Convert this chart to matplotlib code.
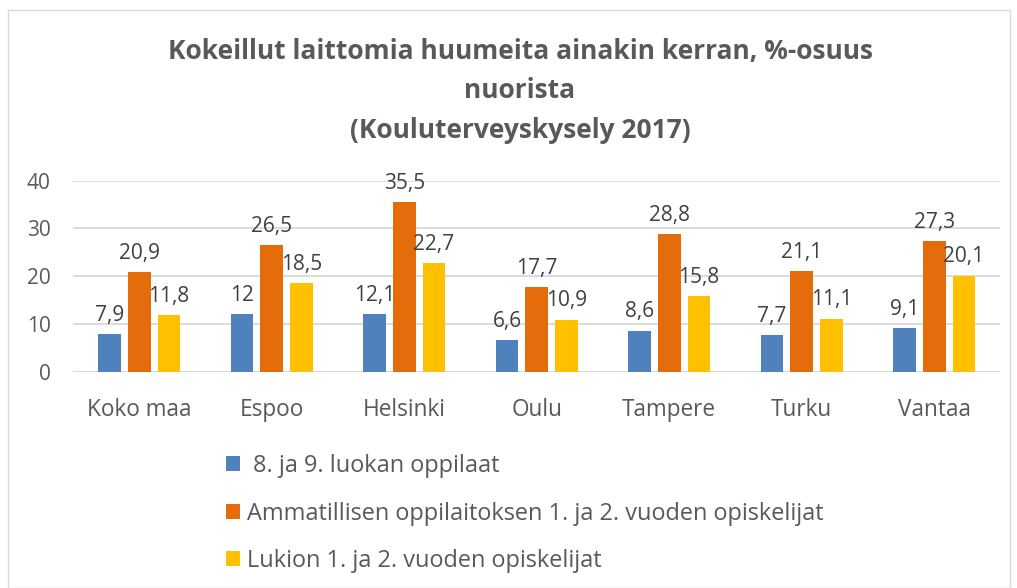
import matplotlib
matplotlib.use("Agg")
import matplotlib.pyplot as plt
from matplotlib.patches import Rectangle, Patch
import numpy as np

plt.rcParams['font.family'] = ['Open Sans', 'DejaVu Sans']

categories = ["Koko maa", "Espoo", "Helsinki", "Oulu", "Tampere", "Turku", "Vantaa"]
series_names = [" 8. ja 9. luokan oppilaat",
                "Ammatillisen oppilaitoksen 1. ja 2. vuoden opiskelijat",
                "Lukion 1. ja 2. vuoden opiskelijat"]
s1 = [7.9, 12, 12.1, 6.6, 8.6, 7.7, 9.1]
s2 = [20.9, 26.5, 35.5, 17.7, 28.8, 21.1, 27.3]
s3 = [11.8, 18.5, 22.7, 10.9, 15.8, 11.1, 20.1]
yticks = [0, 10, 20, 30, 40]
colors = ["#4F81BD", "#E46C0A", "#FFC000"]

W, H = 1017, 588
fig = plt.figure(figsize=(W/100, H/100), dpi=100)
ax = fig.add_axes([73/W, 1-371.7/H, (1000.5-73)/W, (371.7-180.7)/H])

x = np.arange(len(categories))
bw = 0.171
off = 0.224
txtc = "#595959"
for i, (vals, c) in enumerate(zip([s1, s2, s3], colors)):
    xs = x + (i-1)*off
    ax.bar(xs, vals, width=bw, color=c, zorder=3)
    for xi, v in zip(xs, vals):
        lab = f"{v:g}".replace(".", ",")
        ax.annotate(lab, (xi, v), xytext=(0, 6), textcoords="offset points",
                    ha="center", va="bottom", fontsize=15, color="#404040")

ax.set_xlim(-0.5, len(categories)-0.5)
ax.set_ylim(0, 40)
ax.set_yticks(yticks)
ax.set_yticklabels([str(t) for t in yticks], fontsize=15, color=txtc)
ax.set_xticks(x)
ax.set_xticklabels(categories, fontsize=16.3, color=txtc)
ax.tick_params(axis='both', length=0)
ax.tick_params(axis='x', pad=19)
ax.tick_params(axis='y', pad=16)
ax.yaxis.grid(True, color="#D9D9D9", linewidth=1.3, zorder=0)
for s in ax.spines.values():
    s.set_visible(False)
ax.axhline(0, color="#D9D9D9", linewidth=1.3, zorder=2)

for ty, t in [(52, "Kokeillut laittomia huumeita ainakin kerran, %-osuus"),
              (90, "nuorista"), (130, "(Kouluterveyskysely 2017)")]:
    fig.text(520/W, 1-ty/H, t, ha="center", va="center", fontsize=19,
             fontweight="bold", color=txtc)

handles = [Patch(facecolor=c, edgecolor='none') for c in colors]
fig.legend(handles, series_names, loc="upper left",
           bbox_to_anchor=(205/W, 1-433/H), frameon=False,
           fontsize=16.9, handlelength=0.6, handleheight=0.6,
           handletextpad=0.3, labelspacing=1.0, labelcolor=txtc)

fig.patches.append(Rectangle((8/W, 0), (1010-8)/W, 1-10/H, transform=fig.transFigure,
                             fill=False, edgecolor="#D9D9D9", linewidth=1))

fig.savefig("out.png", dpi=100)
